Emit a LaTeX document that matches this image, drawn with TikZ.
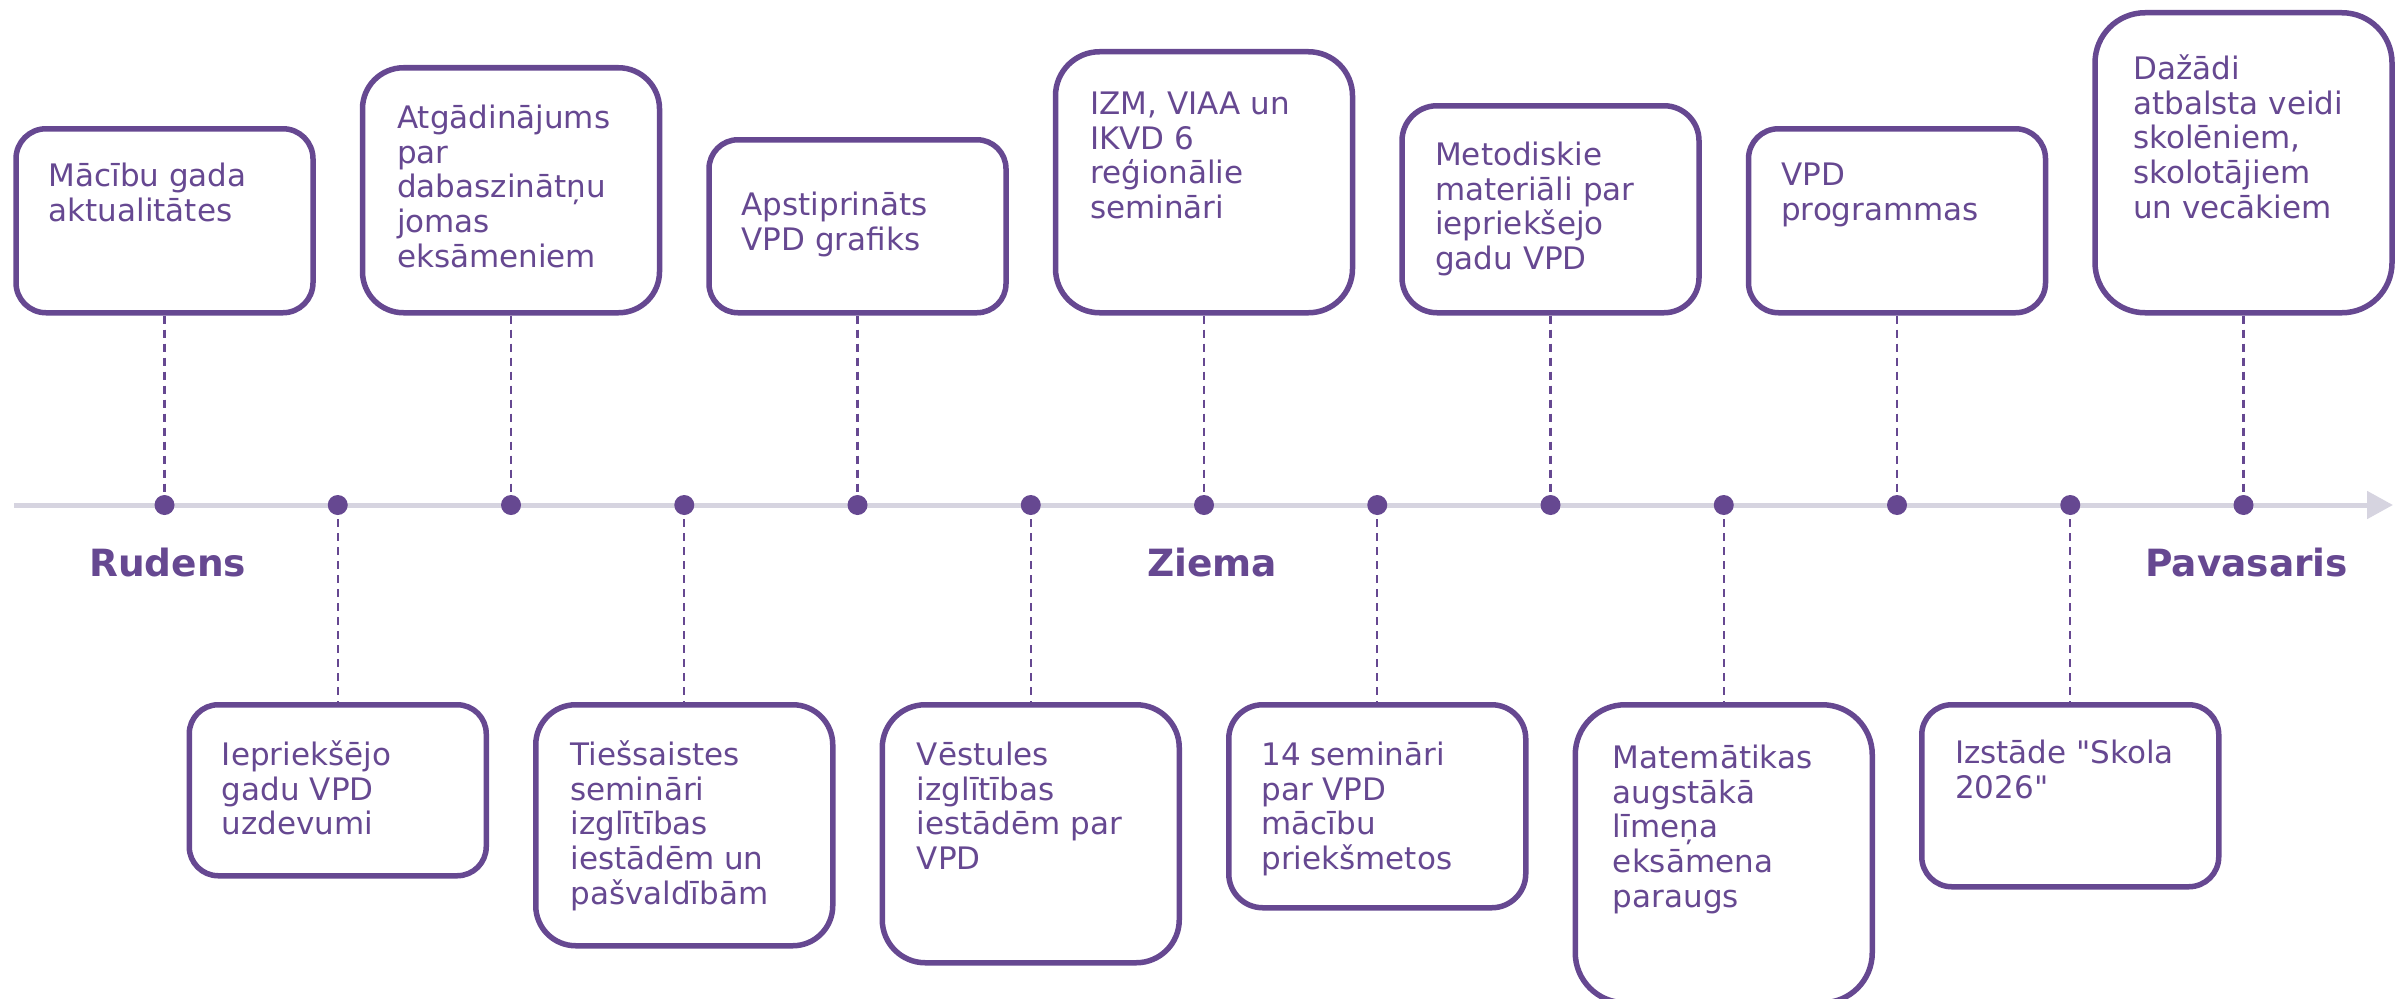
\documentclass[tikz,border=0pt]{standalone}
\usepackage{fontspec}
\newfontfamily\vfont{DejaVu Sans}
\usetikzlibrary{arrows.meta}
\definecolor{vpurple}{RGB}{102,72,145}
\definecolor{vgrey}{RGB}{214,212,224}
\pgfdeclarelayer{bg}
\pgfsetlayers{bg,main}
\newcommand{\fs}{\rule{0pt}{27pt}}
\begin{document}
\begin{tikzpicture}[x=1pt,y=-1pt,
  box/.style={draw=vpurple, line width=5.5pt, fill=white, minimum width=297pt, anchor=north, inner sep=0pt},
  txt/.style={text=vpurple, font=\vfont\fontsize{31}{34.8}\selectfont, align=left, inner sep=0pt, anchor=north west},
  dotnode/.style={circle, fill=vpurple, minimum size=20pt, inner sep=0pt},
  conn/.style={draw=vpurple, line width=2.3pt, dash pattern=on 8pt off 6pt},
  axisline/.style={draw=vgrey, line width=5pt, -{Triangle[length=26pt,width=27pt]}},
  season/.style={text=vpurple, font=\vfont\bfseries\fontsize{37.5}{40}\selectfont, inner sep=0pt, anchor=base west}
]
\useasboundingbox (0,0) rectangle (2405,998);

% axis end points
\coordinate (axs) at (14,505);
\coordinate (axe) at (2393,505);

% dots
\foreach \i in {0,...,12}{
  \node[dotnode] (d\i) at ({164.5+173.25*\i},505) {};
}

% top boxes (bottom edge at 310)
\node[box, minimum height=184pt, rounded corners=30pt] (t0) at (164.5,126) {};
\node[box, minimum height=245pt, rounded corners=41pt] (t2) at (511,65) {};
\node[box, minimum height=173pt, rounded corners=29pt] (t4) at (857.5,137) {};
\node[box, minimum height=261pt, rounded corners=44pt] (t6) at (1204,49) {};
\node[box, minimum height=207pt, rounded corners=35pt] (t8) at (1550.5,103) {};
\node[box, minimum height=184pt, rounded corners=30pt] (t10) at (1897,126) {};
\node[box, minimum height=300pt, rounded corners=50pt] (t12) at (2243.5,10) {};

% bottom boxes (top edge at 702)
\node[box, minimum height=171pt, rounded corners=29pt] (b1) at (337.75,702) {};
\node[box, minimum height=241pt, rounded corners=40pt] (b3) at (684.25,702) {};
\node[box, minimum height=258pt, rounded corners=43pt] (b5) at (1030.75,702) {};
\node[box, minimum height=203pt, rounded corners=34pt] (b7) at (1377.25,702) {};
\node[box, minimum height=298pt, rounded corners=50pt] (b9) at (1723.75,702) {};
\node[box, minimum height=182pt, rounded corners=30pt] (b11) at (2070.25,702) {};

% texts (first baseline = y + 27)
\node[txt] (t0x) at (48.5,159) {\fs Mācību gada\\aktualitātes};
\node[txt] (t2x) at (397,101) {\fs Atgādinājums\\par\\dabaszinātņu\\jomas\\eksāmeniem};
\node[txt] (t4x) at (741.5,188) {\fs Apstiprināts\\VPD grafiks};
\node[txt] (t6x) at (1090,87) {\fs IZM, VIAA un\\IKVD 6\\reģionālie\\semināri};
\node[txt] (t8x) at (1435,138) {\fs Metodiskie\\materiāli par\\iepriekšejo\\gadu VPD};
\node[txt] (t10x) at (1781,158) {\fs VPD\\programmas};
\node[txt] (t12x) at (2133,52) {\fs Dažādi\\atbalsta veidi\\skolēniem,\\skolotājiem\\un vecākiem};

\node[txt] (b1x) at (221.75,738) {\fs Iepriekšējo\\gadu VPD\\uzdevumi};
\node[txt] (b3x) at (570.25,738) {\fs Tiešsaistes\\semināri\\izglītības\\iestādēm un\\pašvaldībām};
\node[txt] (b5x) at (916.75,738) {\fs Vēstules\\izglītības\\iestādēm par\\VPD};
\node[txt] (b7x) at (1261.25,738) {\fs 14 semināri\\par VPD\\mācību\\priekšmetos};
\node[txt] (b9x) at (1612.75,741) {\fs Matemātikas\\augstākā\\līmeņa\\eksāmena\\paraugs};
\node[txt] (b11x) at (1955,736) {\fs Izstāde "Skola\\2026"};

% seasons
\node[season] (s1) at (89,576) {Rudens};
\node[season] (s2) at (1147,576) {Ziema};
\node[season] (s3) at (2145,576) {Pavasaris};

\begin{pgfonlayer}{bg}
  \draw[axisline] (axs) -- (axe);
  \foreach \i in {0,2,4,6,8,10,12}{
    \draw[conn] (t\i.south) -- (d\i.center);
  }
  \foreach \i in {1,3,5,7,9,11}{
    \draw[conn] (d\i.center) -- (b\i.north);
  }
\end{pgfonlayer}
\end{tikzpicture}
\end{document}
